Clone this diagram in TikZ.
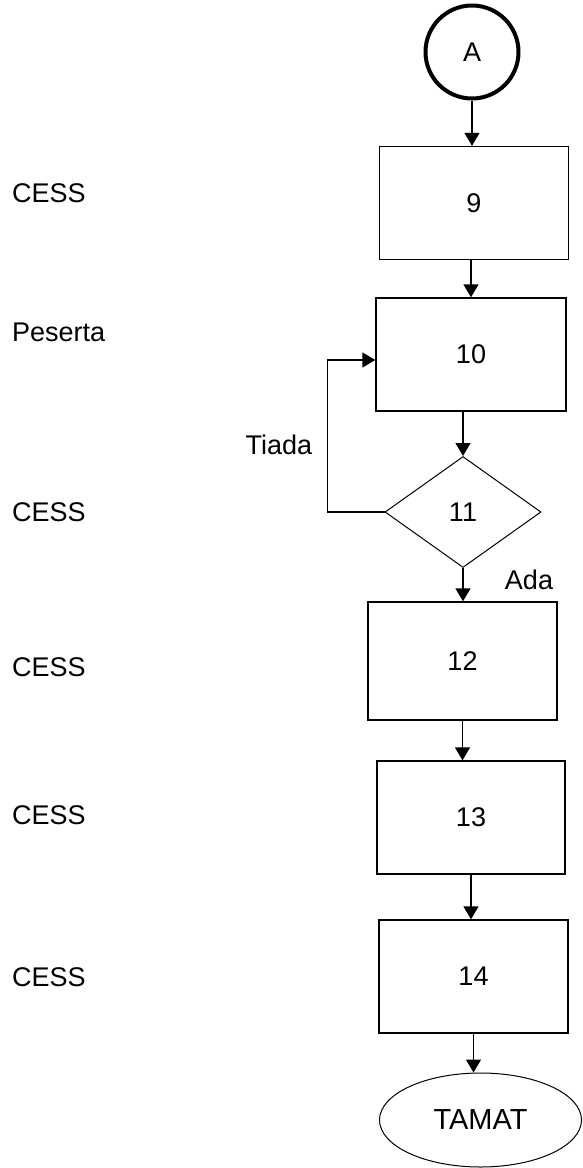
\documentclass[tikz,border=0pt]{standalone}
\usepackage{fontspec}
\setmainfont{Liberation Sans}
\usetikzlibrary{calc,positioning}
\usetikzlibrary{shapes.geometric,arrows.meta}

\begin{document}
\begin{tikzpicture}[x=1pt,y=-1pt,
    font=\fontsize{27}{32}\selectfont,
    proses/.style={draw,line width=1.3pt,minimum width=189pt,minimum height=113pt,inner sep=0pt},
    keputusan/.style={draw,diamond,line width=1pt,minimum width=156pt,minimum height=111pt,inner sep=0pt},
    aliran/.style={-{Triangle[length=13pt,width=15pt]},line width=1.3pt},
    kiri/.style={anchor=west,inner sep=0pt}]
    \useasboundingbox (0,0) rectangle (582,1168);
    % carta alir
    \node[circle,draw,line width=4pt,minimum size=93pt,inner sep=0pt] (A) at (472,52) {A};
    \node[proses] (b9) at (474,203) {9};
    \node[proses,minimum width=190pt] (b10) at (471,354.5) {10};
    \node[keputusan] (d11) at (463,512) {11};
    \node[proses,minimum height=118pt] (b12) at (462.5,661) {12};
    \node[proses,minimum width=188pt] (b13) at (471,817.5) {13};
    \node[proses] (b14) at (473.5,976.5) {14};
    \node[ellipse,draw,line width=1pt,minimum width=202pt,minimum height=94pt,inner sep=0pt,font=\fontsize{29}{34}\selectfont] (tamat) at (480.5,1120) {TAMAT};
    % anak panah
    \draw[aliran] (A.south) -- (A.south |- b9.north);
    \draw[aliran] (b10.north |- b9.south) -- (b10.north);
    \draw[aliran] (d11.north |- b10.south) -- (d11.north);
    \draw[aliran] (d11.south) -- (d11.south |- b12.north);
    \draw[aliran] (b12.south) -- (b12.south |- b13.north);
    \draw[aliran] (b13.south) -- (b13.south |- b14.north);
    \draw[aliran] (b14.south) -- (b14.south |- tamat.north);
    \draw[aliran] (d11.west) -- ++(-57,0) |- ([yshift=-5.5pt]b10.west);
    \node (tiada) at (279,445) {Tiada};
    \node (ada) at (529,580) {Ada};
    % pelaku di sebelah kiri
    \foreach \y/\t [count=\i] in {193/CESS,332/Peserta,512/CESS,667/CESS,815/CESS,977/CESS}
        \node[kiri] (p\i) at (12,\y) {\t};
\end{tikzpicture}
\end{document}
